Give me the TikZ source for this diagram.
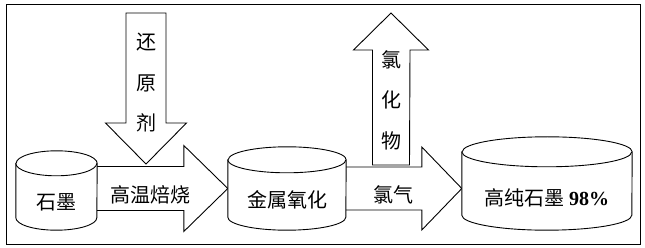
\documentclass[tikz,border=0pt]{standalone}
\usepackage{fontspec}
\setmainfont{Liberation Serif}
\newfontfamily\cjk{Noto Sans CJK SC}
\usetikzlibrary{calc}
\tikzset{
box/.style={rectangle, inner sep=0pt},
drum/.style={draw, line width=0.9pt, fill=white},
blk/.style={draw, line width=0.9pt, fill=white, line join=miter},
word/.style={font=\cjk\fontsize{20}{24}\selectfont, inner sep=0pt},
vword/.style={font=\cjk\fontsize{20}{40.5}\selectfont, align=center, inner sep=0pt}
}

\begin{document}
\begin{tikzpicture}[x=1pt, y=-1pt]
    \useasboundingbox (0,0) rectangle (645,248);
    \draw[line width=0.8pt] (6,4) rectangle (640,244);
    \coordinate (agent) at (146,13);
    \coordinate (agenttip) at (146,164);
    \coordinate (chloride) at (391,13);
    \coordinate (chloridebase) at (391,165);
    \node[box, minimum width=81pt, minimum height=79pt] (graphite) at (56.5,190.5) {};
    \node[box, minimum width=118pt, minimum height=83pt] (oxide) at (287,188.5) {};
    \node[box, minimum width=170pt, minimum height=93pt] (pure) at (547,183.5) {};
    \draw[blk] ($(agent)+(-20,0)$) -- ($(agenttip)+(-20,-41)$) -- ++(-20.5,0) -- (agenttip) -- ++(40.5,-41) -- ++(-20.5,0) -- ($(agent)+(20,0)$) -- cycle;
    \draw[blk] ($(graphite.east |- oxide.west)+(0,-22)$) -- ($(oxide.west)+(-44,-22)$) -- ++(0,-21) -- (oxide.west) -- ++(-44,43) -- ++(0,-21) -- ($(graphite.east |- oxide.west)+(0,22)$);
    \draw[blk] ($(chloridebase)+(-18.5,0)$) -- ($(chloride)+(-18.5,37)$) -- ++(-19,0) -- (chloride) -- ++(37.5,37) -- ++(-18.5,0) -- ($(chloridebase)+(18.5,0)$) -- cycle;
    \draw[blk] ($(oxide.east)+(0,-21.5)$) -- ($(pure.west |- oxide.east)+(-40,-21.5)$) -- ++(0,-20) -- (pure.west |- oxide.east) -- ++(-40,41.5) -- ++(0,-20) -- ($(oxide.east)+(0,21.5)$);
    % drums
    \draw[drum] ($(graphite.north west)+(0,12.5)$) -- ($(graphite.south west)+(0,-12.5)$) arc[start angle=180, end angle=360, x radius=40.5pt, y radius=12.5pt] -- ($(graphite.north east)+(0,12.5)$) arc[start angle=0, end angle=180, x radius=40.5pt, y radius=12.5pt] -- cycle;
    \draw[drum] ($(graphite.north west)+(0,12.5)$) arc[start angle=180, end angle=360, x radius=40.5pt, y radius=12.5pt];
    \draw[drum] ($(oxide.north west)+(0,13)$) -- ($(oxide.south west)+(0,-13)$) arc[start angle=180, end angle=360, x radius=59pt, y radius=13pt] -- ($(oxide.north east)+(0,13)$) arc[start angle=0, end angle=180, x radius=59pt, y radius=13pt] -- cycle;
    \draw[drum] ($(oxide.north west)+(0,13)$) arc[start angle=180, end angle=360, x radius=59pt, y radius=13pt];
    \draw[drum] ($(pure.north west)+(0,15)$) -- ($(pure.south west)+(0,-15)$) arc[start angle=180, end angle=360, x radius=85pt, y radius=15pt] -- ($(pure.north east)+(0,15)$) arc[start angle=0, end angle=180, x radius=85pt, y radius=15pt] -- cycle;
    \draw[drum] ($(pure.north west)+(0,15)$) arc[start angle=180, end angle=360, x radius=85pt, y radius=15pt];
    \node[word] (t1) at (56,202) {石墨};
    \node[word] (t2) at (150,195) {高温焙烧};
    \node[word] (t3) at (287,200) {金属氧化};
    \node[word] (t4) at (393,195) {氯气};
    \node[word] (t5) at (547,198) {高纯石墨 {\rmfamily\bfseries 98\%}};
    \node[vword] (t6) at (146,83) {还\\原\\剂};
    \node[vword] (t7) at (391,100) {氯\\化\\物};
\end{tikzpicture}
\end{document}
